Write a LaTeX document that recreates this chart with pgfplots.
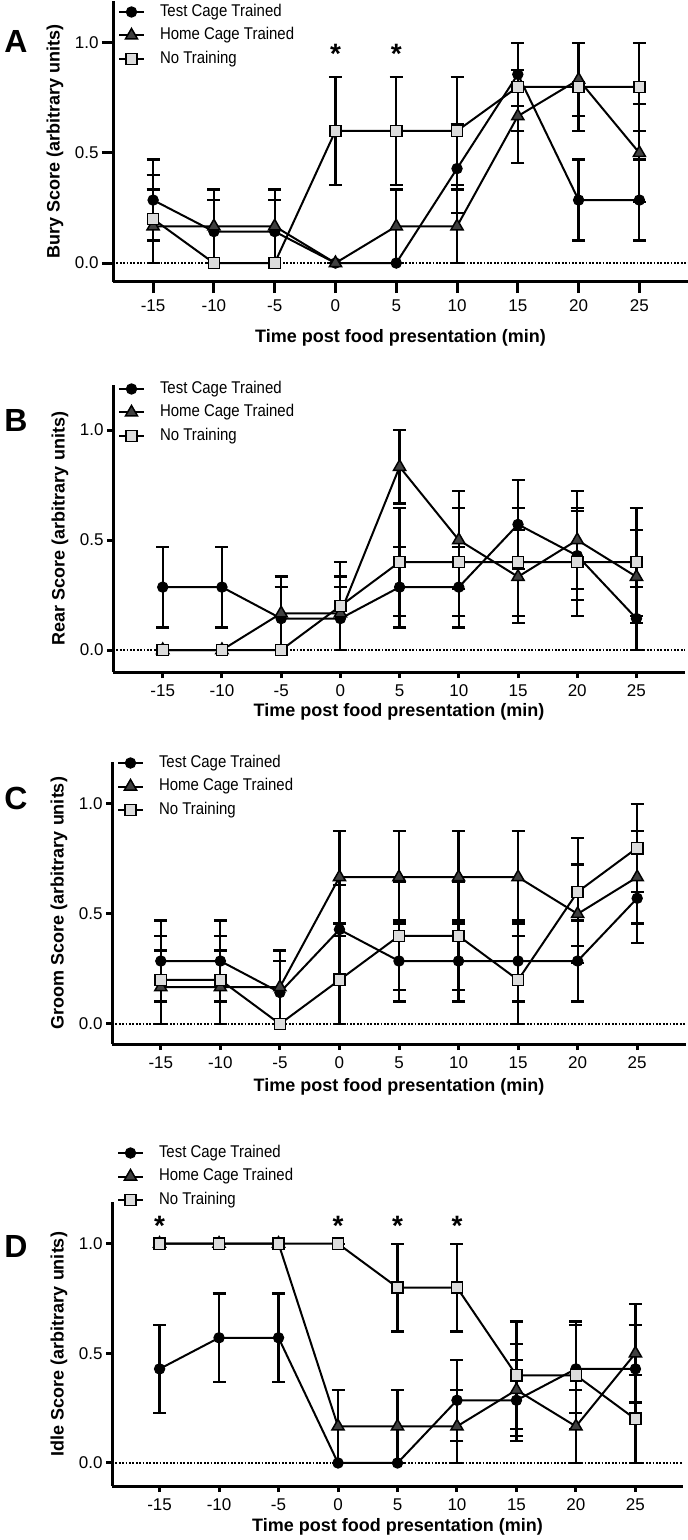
\documentclass[border=0pt]{standalone}
\usepackage{fontspec}
\setmainfont{Liberation Sans}
\newfontfamily\narrowfont[FakeStretch=0.88]{Liberation Sans}
\usepackage{pgfplots}
\pgfplotsset{compat=1.18}
\definecolor{hcfill}{HTML}{404040}
\definecolor{ntfill}{HTML}{DCDCDC}
\tikzset{zeroline/.style={line width=0.9pt, dash pattern=on 0.9pt off 0.8pt}}
\pgfplotsset{
 panel/.style={
  scale only axis, anchor=south west, clip=false,
  axis lines*=left,
  axis line style={line width=1.5pt, black},
  xtick={-15,-10,...,25}, ytick={0,0.5,1},
  tick align=outside,
  major tick style={line width=1.5pt, black},
  major tick length=3pt,
  /pgf/number format/assume math mode=true,
  tick label style={font=\fontsize{8.5}{10}\selectfont},
  yticklabel style={inner sep=1.5pt, /pgf/number format/.cd, fixed, fixed zerofill, precision=1},
  xticklabel style={/pgf/number format/.cd, fixed, precision=0},
  label style={font=\bfseries\fontsize{9}{10}\selectfont},
  x label style={at={(axis description cs:0.5,0)}, anchor=center},
  y label style={anchor=center},
  xlabel={Time post food presentation (min)},
  legend style={at={(axis description cs:0,1)}, anchor=north west, xshift=2.5pt,
    draw=none, fill=none, inner sep=0pt, outer sep=0pt,
    font=\narrowfont\fontsize{8.5}{10}\selectfont, row sep=3.25pt,
    nodes={inner sep=0pt, text height=6.3pt, text depth=2.2pt},
    /tikz/every odd column/.append style={column sep=7.5pt}},
  legend cell align=left,
  legend image code/.code={\draw[mark repeat=2,mark phase=2] plot coordinates {(0pt,0pt) (6.25pt,0pt) (12.5pt,0pt)};},
 },
 tc/.style={black, line width=1pt, mark=*, mark size=2.6pt, mark options={fill=black, line width=0.5pt},
   error bars/.cd, y dir=both, y explicit, error mark=-, error bar style={line width=1.1pt, black}, error mark options={rotate=90, line width=1.1pt, mark size=3.25pt, black}},
 hc/.style={black, line width=1pt, mark=triangle*, mark size=3.5pt, mark options={fill=hcfill, line width=0.75pt},
   error bars/.cd, y dir=both, y explicit, error mark=-, error bar style={line width=1.1pt, black}, error mark options={rotate=90, line width=1.1pt, mark size=3.25pt, black}},
 nt/.style={black, line width=1pt, mark=square*, mark size=2.8pt, mark options={fill=ntfill, line width=0.75pt},
   error bars/.cd, y dir=both, y explicit, error mark=-, error bar style={line width=1.1pt, black}, error mark options={rotate=90, line width=1.1pt, mark size=3.25pt, black}},
 star/.style={draw=none, mark=none, forget plot, nodes near coords={\bfseries\fontsize{14}{14}\selectfont *}, nodes near coords align={center}},
}
\begin{document}
\begin{tikzpicture}
\useasboundingbox (0,0) rectangle (344pt,-770pt);
% ---------------- A ----------------
\begin{axis}[panel, at={(56.5pt,-141pt)}, width=287.5pt, height=140.5pt,
  xmin=-18.3, xmax=29.0, ymin=-0.086, ymax=1.19, major tick length=5.5pt,
  ylabel={Bury Score (arbitrary units)},
  y label style={at={(axis description cs:-0.1009,0.5)}},
  x label style={yshift=-28pt}, legend style={yshift=-1.25pt}]
\draw[zeroline] (axis cs:-18.3,0) -- (axis cs:29.0,0);
\addplot[tc] coordinates {(-15,0.286) +- (0,0.184) (-10,0.143) +- (0,0.143) (-5,0.143) +- (0,0.143) (0,0) +- (0,0) (5,0) +- (0,0) (10,0.429) +- (0,0.202) (15,0.857) +- (0,0.143) (20,0.286) +- (0,0.184) (25,0.286) +- (0,0.184)};
\addplot[hc] coordinates {(-15,0.167) +- (0,0.167) (-10,0.167) +- (0,0.167) (-5,0.167) +- (0,0.167) (0,0) +- (0,0) (5,0.167) +- (0,0.167) (10,0.167) +- (0,0.167) (15,0.667) +- (0,0.211) (20,0.833) +- (0,0.167) (25,0.5) +- (0,0.224)};
\addplot[nt] coordinates {(-15,0.2) +- (0,0.2) (-10,0) +- (0,0) (-5,0) +- (0,0) (0,0.6) +- (0,0.245) (5,0.6) +- (0,0.245) (10,0.6) +- (0,0.245) (15,0.8) +- (0,0.2) (20,0.8) +- (0,0.2) (25,0.8) +- (0,0.2)};
\addplot[star] coordinates {(0,0.95) (5,0.95)};
\legend{Test Cage Trained, Home Cage Trained, No Training}
\end{axis}
\node[font=\bfseries\fontsize{16}{16}\selectfont] at (8pt,-20.5pt) {A};
% ---------------- B ----------------
\begin{axis}[panel, at={(56.5pt,-336pt)}, width=286pt, height=143.5pt,
  xmin=-19.2, xmax=29.1, ymin=-0.1, ymax=1.205,
  ylabel={Rear Score (arbitrary units)},
  y label style={at={(axis description cs:-0.0927,0.5)}},
  x label style={yshift=-20pt}, legend style={yshift=2.25pt}]
\draw[zeroline] (axis cs:-19.2,0) -- (axis cs:29.1,0);
\addplot[tc] coordinates {(-15,0.286) +- (0,0.184) (-10,0.286) +- (0,0.184) (-5,0.143) +- (0,0.143) (0,0.143) +- (0,0.143) (5,0.286) +- (0,0.184) (10,0.286) +- (0,0.184) (15,0.571) +- (0,0.202) (20,0.429) +- (0,0.202) (25,0.143) +- (0,0.143)};
\addplot[hc] coordinates {(-15,0) +- (0,0) (-10,0) +- (0,0) (-5,0.167) +- (0,0.167) (0,0.167) +- (0,0.167) (5,0.833) +- (0,0.167) (10,0.5) +- (0,0.224) (15,0.333) +- (0,0.211) (20,0.5) +- (0,0.224) (25,0.333) +- (0,0.211)};
\addplot[nt] coordinates {(-15,0) +- (0,0) (-10,0) +- (0,0) (-5,0) +- (0,0) (0,0.2) +- (0,0.2) (5,0.4) +- (0,0.245) (10,0.4) +- (0,0.245) (15,0.4) +- (0,0.245) (20,0.4) +- (0,0.245) (25,0.4) +- (0,0.245)};
\legend{Test Cage Trained, Home Cage Trained, No Training}
\end{axis}
\node[font=\bfseries\fontsize{16}{16}\selectfont] at (8pt,-210pt) {B};
% ---------------- C ----------------
\begin{axis}[panel, at={(56pt,-522pt)}, width=287pt, height=141pt,
  xmin=-19.1, xmax=29.1, ymin=-0.091, ymax=1.19,
  ylabel={Groom Score (arbitrary units)},
  y label style={at={(axis description cs:-0.0923,0.5)}},
  x label style={yshift=-21.5pt}, legend style={yshift=3.75pt}]
\draw[zeroline] (axis cs:-19.1,0) -- (axis cs:29.1,0);
\addplot[tc] coordinates {(-15,0.286) +- (0,0.184) (-10,0.286) +- (0,0.184) (-5,0.143) +- (0,0.143) (0,0.429) +- (0,0.202) (5,0.286) +- (0,0.184) (10,0.286) +- (0,0.184) (15,0.286) +- (0,0.184) (20,0.286) +- (0,0.184) (25,0.571) +- (0,0.202)};
\addplot[hc] coordinates {(-15,0.167) +- (0,0.167) (-10,0.167) +- (0,0.167) (-5,0.167) +- (0,0.167) (0,0.667) +- (0,0.211) (5,0.667) +- (0,0.211) (10,0.667) +- (0,0.211) (15,0.667) +- (0,0.211) (20,0.5) +- (0,0.224) (25,0.667) +- (0,0.211)};
\addplot[nt] coordinates {(-15,0.2) +- (0,0.2) (-10,0.2) +- (0,0.2) (-5,0) +- (0,0) (0,0.2) +- (0,0.2) (5,0.4) +- (0,0.245) (10,0.4) +- (0,0.245) (15,0.2) +- (0,0.2) (20,0.6) +- (0,0.245) (25,0.8) +- (0,0.2)};
\legend{Test Cage Trained, Home Cage Trained, No Training}
\end{axis}
\node[font=\bfseries\fontsize{16}{16}\selectfont] at (8pt,-399pt) {C};
% ---------------- D ----------------
\begin{axis}[panel, at={(56pt,-743pt)}, width=285.5pt, height=142pt,
  xmin=-19.0, xmax=29.0, ymin=-0.105, ymax=1.19,
  ylabel={Idle Score (arbitrary units)},
  y label style={at={(axis description cs:-0.0928,0.5)}},
  x label style={yshift=-20.5pt}, legend style={yshift=28.75pt}]
\draw[zeroline] (axis cs:-19.0,0) -- (axis cs:29.0,0);
\addplot[tc] coordinates {(-15,0.429) +- (0,0.202) (-10,0.571) +- (0,0.202) (-5,0.571) +- (0,0.202) (0,0) +- (0,0) (5,0) +- (0,0) (10,0.286) +- (0,0.184) (15,0.286) +- (0,0.184) (20,0.429) +- (0,0.202) (25,0.429) +- (0,0.202)};
\addplot[hc] coordinates {(-15,1) +- (0,0) (-10,1) +- (0,0) (-5,1) +- (0,0) (0,0.167) +- (0,0.167) (5,0.167) +- (0,0.167) (10,0.167) +- (0,0.167) (15,0.333) +- (0,0.211) (20,0.167) +- (0,0.167) (25,0.5) +- (0,0.224)};
\addplot[nt] coordinates {(-15,1) +- (0,0) (-10,1) +- (0,0) (-5,1) +- (0,0) (0,1) +- (0,0) (5,0.8) +- (0,0.2) (10,0.8) +- (0,0.2) (15,0.4) +- (0,0.245) (20,0.4) +- (0,0.245) (25,0.2) +- (0,0.2)};
\addplot[star] coordinates {(-15,1.08) (0,1.08) (5,1.08) (10,1.08)};
\legend{Test Cage Trained, Home Cage Trained, No Training}
\end{axis}
\node[font=\bfseries\fontsize{16}{16}\selectfont] at (8pt,-623pt) {D};
\end{tikzpicture}
\end{document}
